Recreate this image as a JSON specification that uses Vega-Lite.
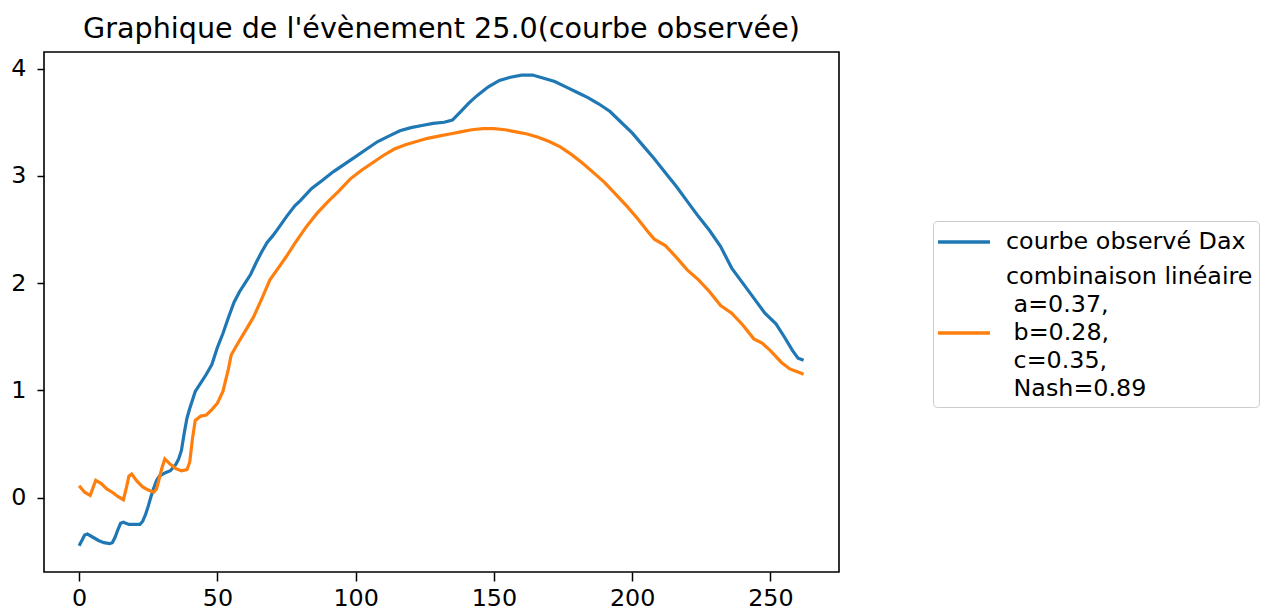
{
  "$schema": "https://vega.github.io/schema/vega-lite/v6.json",
  "width": 795,
  "height": 520,
  "autosize": {"type": "none"},
  "padding": {"left": 44, "top": 52, "right": 422, "bottom": 40},
  "background": "white",
  "title": {"text": "Graphique de l'évènement 25.0(courbe observée)", "font": "DejaVu Sans", "fontSize": 28.6, "fontWeight": "normal", "color": "black", "anchor": "middle", "frame": "group", "baseline": "alphabetic", "offset": -15},
  "config": {
    "view": {"stroke": "black", "strokeWidth": 1.6},
    "axis": {"domain": false, "grid": false, "ticks": true, "tickColor": "black", "tickWidth": 1.5, "tickSize": 7, "labelFont": "DejaVu Sans", "labelFontSize": 23.8, "labelColor": "black", "title": null}
  },
  "data": {"values": [
    {"x": 0, "y": -0.45, "s": "obs"}, {"x": 1, "y": -0.40, "s": "obs"}, {"x": 2, "y": -0.35, "s": "obs"}, {"x": 3, "y": -0.34, "s": "obs"},
    {"x": 5, "y": -0.37, "s": "obs"}, {"x": 7, "y": -0.40, "s": "obs"}, {"x": 9, "y": -0.42, "s": "obs"}, {"x": 11, "y": -0.43, "s": "obs"},
    {"x": 12, "y": -0.42, "s": "obs"}, {"x": 13, "y": -0.37, "s": "obs"}, {"x": 14, "y": -0.30, "s": "obs"}, {"x": 15, "y": -0.24, "s": "obs"},
    {"x": 16, "y": -0.23, "s": "obs"}, {"x": 18, "y": -0.25, "s": "obs"}, {"x": 20, "y": -0.25, "s": "obs"}, {"x": 22, "y": -0.25, "s": "obs"},
    {"x": 23, "y": -0.22, "s": "obs"}, {"x": 24, "y": -0.16, "s": "obs"}, {"x": 25, "y": -0.08, "s": "obs"}, {"x": 26, "y": 0.01, "s": "obs"},
    {"x": 27, "y": 0.09, "s": "obs"}, {"x": 28, "y": 0.16, "s": "obs"}, {"x": 29, "y": 0.20, "s": "obs"}, {"x": 31, "y": 0.23, "s": "obs"},
    {"x": 33, "y": 0.25, "s": "obs"}, {"x": 35, "y": 0.31, "s": "obs"}, {"x": 36, "y": 0.36, "s": "obs"}, {"x": 37, "y": 0.44, "s": "obs"},
    {"x": 38, "y": 0.60, "s": "obs"}, {"x": 39, "y": 0.74, "s": "obs"}, {"x": 40, "y": 0.83, "s": "obs"}, {"x": 42, "y": 0.99, "s": "obs"},
    {"x": 44, "y": 1.07, "s": "obs"}, {"x": 46, "y": 1.15, "s": "obs"}, {"x": 48, "y": 1.24, "s": "obs"}, {"x": 50, "y": 1.40, "s": "obs"},
    {"x": 52, "y": 1.53, "s": "obs"}, {"x": 54, "y": 1.68, "s": "obs"}, {"x": 56, "y": 1.82, "s": "obs"}, {"x": 58, "y": 1.92, "s": "obs"},
    {"x": 60, "y": 2.00, "s": "obs"}, {"x": 62, "y": 2.08, "s": "obs"}, {"x": 64, "y": 2.19, "s": "obs"}, {"x": 66, "y": 2.29, "s": "obs"},
    {"x": 68, "y": 2.38, "s": "obs"}, {"x": 70, "y": 2.44, "s": "obs"}, {"x": 72, "y": 2.51, "s": "obs"}, {"x": 75, "y": 2.62, "s": "obs"},
    {"x": 78, "y": 2.72, "s": "obs"}, {"x": 80, "y": 2.77, "s": "obs"}, {"x": 84, "y": 2.88, "s": "obs"}, {"x": 88, "y": 2.96, "s": "obs"},
    {"x": 92, "y": 3.04, "s": "obs"}, {"x": 96, "y": 3.11, "s": "obs"}, {"x": 100, "y": 3.18, "s": "obs"}, {"x": 104, "y": 3.25, "s": "obs"},
    {"x": 108, "y": 3.32, "s": "obs"}, {"x": 112, "y": 3.37, "s": "obs"}, {"x": 116, "y": 3.42, "s": "obs"}, {"x": 120, "y": 3.45, "s": "obs"},
    {"x": 124, "y": 3.47, "s": "obs"}, {"x": 128, "y": 3.49, "s": "obs"}, {"x": 132, "y": 3.50, "s": "obs"}, {"x": 135, "y": 3.52, "s": "obs"},
    {"x": 138, "y": 3.60, "s": "obs"}, {"x": 141, "y": 3.68, "s": "obs"}, {"x": 144, "y": 3.75, "s": "obs"}, {"x": 148, "y": 3.83, "s": "obs"},
    {"x": 152, "y": 3.89, "s": "obs"}, {"x": 156, "y": 3.92, "s": "obs"}, {"x": 160, "y": 3.94, "s": "obs"}, {"x": 164, "y": 3.94, "s": "obs"},
    {"x": 168, "y": 3.91, "s": "obs"}, {"x": 172, "y": 3.88, "s": "obs"}, {"x": 176, "y": 3.83, "s": "obs"}, {"x": 180, "y": 3.78, "s": "obs"},
    {"x": 184, "y": 3.73, "s": "obs"}, {"x": 188, "y": 3.67, "s": "obs"}, {"x": 192, "y": 3.60, "s": "obs"}, {"x": 196, "y": 3.50, "s": "obs"},
    {"x": 200, "y": 3.40, "s": "obs"}, {"x": 204, "y": 3.28, "s": "obs"}, {"x": 208, "y": 3.16, "s": "obs"}, {"x": 212, "y": 3.03, "s": "obs"},
    {"x": 216, "y": 2.90, "s": "obs"}, {"x": 220, "y": 2.76, "s": "obs"}, {"x": 224, "y": 2.62, "s": "obs"}, {"x": 228, "y": 2.49, "s": "obs"},
    {"x": 232, "y": 2.34, "s": "obs"}, {"x": 236, "y": 2.14, "s": "obs"}, {"x": 240, "y": 2.00, "s": "obs"}, {"x": 244, "y": 1.86, "s": "obs"},
    {"x": 248, "y": 1.72, "s": "obs"}, {"x": 252, "y": 1.62, "s": "obs"}, {"x": 255, "y": 1.50, "s": "obs"}, {"x": 258, "y": 1.37, "s": "obs"},
    {"x": 260, "y": 1.30, "s": "obs"}, {"x": 262, "y": 1.28, "s": "obs"},
    {"x": 0, "y": 0.11, "s": "comb"}, {"x": 2, "y": 0.05, "s": "comb"}, {"x": 4, "y": 0.02, "s": "comb"}, {"x": 6, "y": 0.16, "s": "comb"},
    {"x": 8, "y": 0.13, "s": "comb"}, {"x": 10, "y": 0.08, "s": "comb"}, {"x": 12, "y": 0.05, "s": "comb"}, {"x": 14, "y": 0.01, "s": "comb"},
    {"x": 16, "y": -0.02, "s": "comb"}, {"x": 17, "y": 0.08, "s": "comb"}, {"x": 18, "y": 0.20, "s": "comb"}, {"x": 19, "y": 0.22, "s": "comb"},
    {"x": 21, "y": 0.15, "s": "comb"}, {"x": 23, "y": 0.10, "s": "comb"}, {"x": 25, "y": 0.07, "s": "comb"}, {"x": 27, "y": 0.05, "s": "comb"},
    {"x": 28, "y": 0.08, "s": "comb"}, {"x": 30, "y": 0.28, "s": "comb"}, {"x": 31, "y": 0.36, "s": "comb"}, {"x": 33, "y": 0.31, "s": "comb"},
    {"x": 35, "y": 0.27, "s": "comb"}, {"x": 37, "y": 0.25, "s": "comb"}, {"x": 39, "y": 0.26, "s": "comb"}, {"x": 40, "y": 0.33, "s": "comb"},
    {"x": 41, "y": 0.55, "s": "comb"}, {"x": 42, "y": 0.72, "s": "comb"}, {"x": 44, "y": 0.76, "s": "comb"}, {"x": 46, "y": 0.77, "s": "comb"},
    {"x": 48, "y": 0.82, "s": "comb"}, {"x": 50, "y": 0.88, "s": "comb"}, {"x": 52, "y": 0.99, "s": "comb"}, {"x": 54, "y": 1.20, "s": "comb"},
    {"x": 55, "y": 1.33, "s": "comb"}, {"x": 57, "y": 1.42, "s": "comb"}, {"x": 60, "y": 1.55, "s": "comb"}, {"x": 63, "y": 1.68, "s": "comb"},
    {"x": 66, "y": 1.85, "s": "comb"}, {"x": 69, "y": 2.03, "s": "comb"}, {"x": 72, "y": 2.14, "s": "comb"}, {"x": 75, "y": 2.25, "s": "comb"},
    {"x": 78, "y": 2.37, "s": "comb"}, {"x": 82, "y": 2.52, "s": "comb"}, {"x": 86, "y": 2.65, "s": "comb"}, {"x": 90, "y": 2.76, "s": "comb"},
    {"x": 94, "y": 2.86, "s": "comb"}, {"x": 98, "y": 2.97, "s": "comb"}, {"x": 102, "y": 3.05, "s": "comb"}, {"x": 106, "y": 3.12, "s": "comb"},
    {"x": 110, "y": 3.19, "s": "comb"}, {"x": 114, "y": 3.25, "s": "comb"}, {"x": 118, "y": 3.29, "s": "comb"}, {"x": 122, "y": 3.32, "s": "comb"},
    {"x": 126, "y": 3.35, "s": "comb"}, {"x": 130, "y": 3.37, "s": "comb"}, {"x": 134, "y": 3.39, "s": "comb"}, {"x": 138, "y": 3.41, "s": "comb"},
    {"x": 142, "y": 3.43, "s": "comb"}, {"x": 146, "y": 3.44, "s": "comb"}, {"x": 150, "y": 3.44, "s": "comb"}, {"x": 154, "y": 3.43, "s": "comb"},
    {"x": 158, "y": 3.41, "s": "comb"}, {"x": 162, "y": 3.39, "s": "comb"}, {"x": 166, "y": 3.36, "s": "comb"}, {"x": 170, "y": 3.32, "s": "comb"},
    {"x": 174, "y": 3.27, "s": "comb"}, {"x": 178, "y": 3.20, "s": "comb"}, {"x": 182, "y": 3.12, "s": "comb"}, {"x": 186, "y": 3.03, "s": "comb"},
    {"x": 190, "y": 2.94, "s": "comb"}, {"x": 194, "y": 2.83, "s": "comb"}, {"x": 198, "y": 2.72, "s": "comb"}, {"x": 202, "y": 2.60, "s": "comb"},
    {"x": 206, "y": 2.47, "s": "comb"}, {"x": 208, "y": 2.41, "s": "comb"}, {"x": 212, "y": 2.35, "s": "comb"}, {"x": 216, "y": 2.24, "s": "comb"},
    {"x": 220, "y": 2.12, "s": "comb"}, {"x": 224, "y": 2.03, "s": "comb"}, {"x": 228, "y": 1.92, "s": "comb"}, {"x": 232, "y": 1.79, "s": "comb"},
    {"x": 236, "y": 1.72, "s": "comb"}, {"x": 240, "y": 1.61, "s": "comb"}, {"x": 244, "y": 1.48, "s": "comb"}, {"x": 247, "y": 1.44, "s": "comb"},
    {"x": 250, "y": 1.37, "s": "comb"}, {"x": 254, "y": 1.26, "s": "comb"}, {"x": 257, "y": 1.20, "s": "comb"}, {"x": 260, "y": 1.17, "s": "comb"},
    {"x": 262, "y": 1.15, "s": "comb"}
  ]},
  "mark": {"type": "line", "strokeWidth": 3.2, "interpolate": "linear"},
  "encoding": {
    "x": {"field": "x", "type": "quantitative", "scale": {"domain": [-12.7, 274.8], "nice": false, "zero": false}, "axis": {"values": [0, 50, 100, 150, 200, 250], "labelPadding": 5, "tickSize": 9}},
    "y": {"field": "y", "type": "quantitative", "scale": {"domain": [-0.694, 4.155], "nice": false, "zero": false}, "axis": {"values": [0, 1, 2, 3, 4], "labelPadding": 11}},
    "color": {"field": "s", "type": "nominal", "scale": {"domain": ["obs", "comb"], "range": ["#1f77b4", "#ff7f0e"]},
      "legend": {"orient": "none", "legendX": 889, "legendY": 169, "title": null, "symbolType": "M-2,0H2", "symbolSize": 676, "symbolStrokeWidth": 3.3, "symbolOffset": 10, "labelFont": "DejaVu Sans", "labelFontSize": 23.8, "labelColor": "black", "labelOffset": 27, "labelLimit": 400, "padding": 6, "rowPadding": 11, "strokeColor": "#cccccc", "fillColor": "white", "cornerRadius": 4,
        "labelExpr": "datum.value == 'obs' ? 'courbe observé Dax' : ['combinaison linéaire', '\u200b\u00a0a=0.37,', '\u200b\u00a0b=0.28,', '\u200b\u00a0c=0.35,', '\u200b\u00a0Nash=0.89']",
        "encode": {"labels": {"update": {"lineHeight": {"value": 28}, "dy": {"signal": "datum.value === 'comb' ? -56 : 0"}}}}}}
  }
}
